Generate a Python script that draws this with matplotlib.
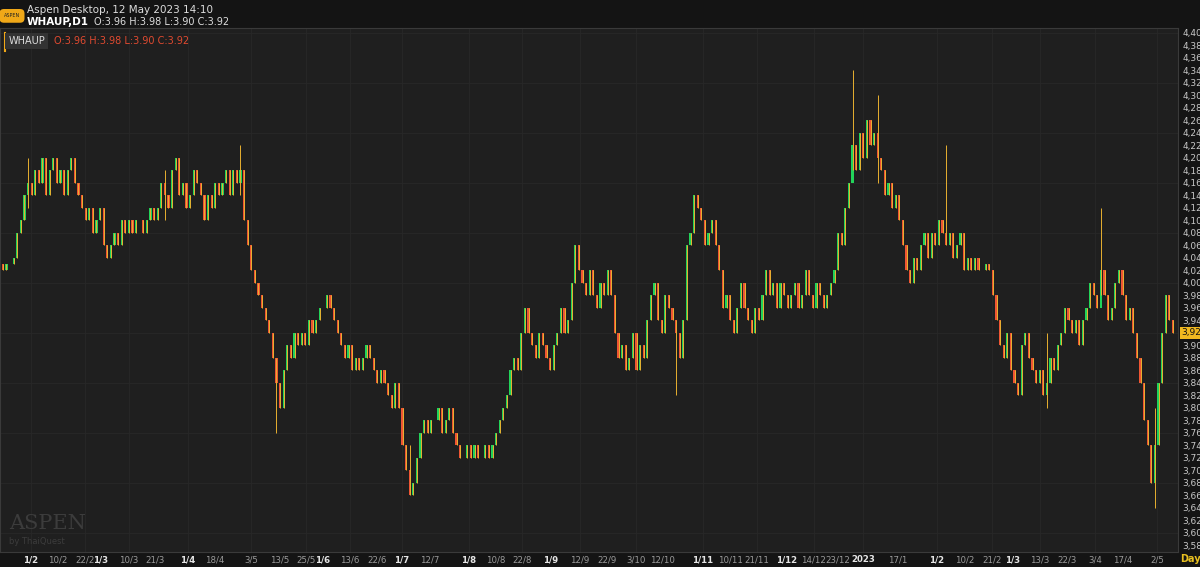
import numpy as np
import matplotlib.pyplot as plt

# daily closes, WHAUP D1
closes = [
    4.02, 4.03, 4.03, 4.04, 4.08, 4.10, 4.14, 4.16, 4.14, 4.18,
    4.16, 4.20, 4.14, 4.18, 4.20, 4.16, 4.18, 4.14, 4.18, 4.20,
    4.16, 4.14, 4.12, 4.10, 4.12, 4.08, 4.10, 4.12, 4.06, 4.04,
    4.06, 4.08, 4.06, 4.10, 4.08, 4.10, 4.08, 4.10, 4.10, 4.08,
    4.10, 4.12, 4.10, 4.12, 4.16, 4.14, 4.12, 4.18, 4.20, 4.14,
    4.16, 4.12, 4.14, 4.18, 4.16, 4.14, 4.10, 4.14, 4.12, 4.16,
    4.14, 4.16, 4.18, 4.14, 4.18, 4.16, 4.18, 4.10, 4.06, 4.02,
    4.00, 3.98, 3.96, 3.94, 3.92, 3.88, 3.84, 3.80, 3.86, 3.90,
    3.88, 3.92, 3.90, 3.92, 3.90, 3.94, 3.92, 3.94, 3.96, 3.96,
    3.98, 3.96, 3.94, 3.92, 3.90, 3.88, 3.90, 3.86, 3.88, 3.86,
    3.88, 3.90, 3.88, 3.86, 3.84, 3.86, 3.84, 3.82, 3.80, 3.84,
    3.80, 3.74, 3.70, 3.66, 3.68, 3.72, 3.76, 3.78, 3.76, 3.78,
    3.78, 3.80, 3.76, 3.78, 3.80, 3.76, 3.74, 3.72, 3.72, 3.74,
    3.72, 3.74, 3.72, 3.72, 3.74, 3.72, 3.74, 3.76, 3.78, 3.80,
    3.82, 3.86, 3.88, 3.86, 3.92, 3.96, 3.92, 3.90, 3.88, 3.92,
    3.90, 3.88, 3.86, 3.90, 3.92, 3.96, 3.92, 3.94, 4.00, 4.06,
    4.02, 4.00, 3.98, 4.02, 3.98, 3.96, 4.00, 3.98, 4.02, 3.98,
    3.92, 3.88, 3.90, 3.86, 3.88, 3.92, 3.86, 3.90, 3.88, 3.94,
    3.98, 4.00, 3.94, 3.92, 3.98, 3.96, 3.94, 3.92, 3.88, 3.94,
    4.06, 4.08, 4.14, 4.12, 4.10, 4.06, 4.08, 4.10, 4.06, 4.02,
    3.96, 3.98, 3.94, 3.92, 3.96, 4.00, 3.96, 3.94, 3.92, 3.96,
    3.94, 3.98, 4.02, 3.98, 4.00, 3.96, 4.00, 3.98, 3.96, 3.98,
    4.00, 3.96, 3.98, 4.02, 3.98, 3.96, 4.00, 3.98, 3.96, 3.98,
    4.00, 4.02, 4.08, 4.06, 4.12, 4.16, 4.22, 4.18, 4.24, 4.20,
    4.26, 4.22, 4.24, 4.20, 4.18, 4.14, 4.16, 4.12, 4.14, 4.10,
    4.06, 4.02, 4.00, 4.04, 4.02, 4.06, 4.08, 4.04, 4.08, 4.06,
    4.10, 4.08, 4.06, 4.08, 4.04, 4.06, 4.08, 4.02, 4.04, 4.02,
    4.04, 4.02, 4.02, 4.03, 4.02, 3.98, 3.94, 3.90, 3.88, 3.92,
    3.86, 3.84, 3.82, 3.90, 3.92, 3.88, 3.86, 3.84, 3.86, 3.82,
    3.84, 3.88, 3.86, 3.90, 3.92, 3.96, 3.94, 3.92, 3.94, 3.90,
    3.94, 3.96, 4.00, 3.98, 3.96, 4.02, 3.98, 3.94, 3.96, 4.00,
    4.02, 3.98, 3.94, 3.96, 3.92, 3.88, 3.84, 3.78, 3.74, 3.68,
    3.74, 3.84, 3.92, 3.98, 3.94, 3.92,
]
first_open = 4.03
# long wicks seen on the chart: index -> (high, low)
spikes = {7: (4.20, 4.12), 45: (4.18, 4.10), 66: (4.22, 4.14), 76: (3.88, 3.76),
          113: (3.74, 3.66), 187: (3.94, 3.82), 236: (4.34, 4.18),
          243: (4.30, 4.16), 262: (4.22, 4.06), 290: (3.92, 3.80),
          305: (4.12, 3.98), 320: (3.80, 3.64)}

tick_labels = ['1/2', '10/2', '22/2', '1/3', '10/3', '21/3', '1/4', '18/4', '3/5', '13/5',
               '25/5', '1/6', '13/6', '22/6', '1/7', '12/7', '1/8', '10/8', '22/8', '1/9',
               '12/9', '22/9', '3/10', '12/10', '1/11', '10/11', '21/11', '1/12', '14/12',
               '23/12', '2023', '17/1', '1/2', '10/2', '21/2', '1/3', '13/3', '22/3', '3/4',
               '17/4', '2/5']
tick_px = [31, 58, 85, 101, 129, 155, 188, 215, 251, 280, 306, 323, 350, 377, 402, 430,
           469, 496, 522, 551, 580, 607, 636, 663, 703, 731, 757, 787, 814, 838, 863, 898,
           937, 965, 992, 1013, 1040, 1067, 1095, 1123, 1157]

n = len(closes)
opens = [first_open] + closes[:-1]
highs = [max(o, c) for o, c in zip(opens, closes)]
lows = [min(o, c) for o, c in zip(opens, closes)]
for i, (h, l) in spikes.items():
    highs[i], lows[i] = h, l

bg = '#1f1f1f'
fig = plt.figure(figsize=(12, 5.67), dpi=100, facecolor='#141414')
ax = fig.add_axes([0, 0.026, 1178 / 1200, 0.925])
ax.set_facecolor(bg)

green, red, doji = '#22d35a', '#ee5533', '#e8b030'
for i in range(n):
    o, c = opens[i], closes[i]
    col = green if c > o else red if c < o else doji
    ax.vlines(i, lows[i], highs[i], color=doji, lw=0.7)
    if c != o:
        ax.add_patch(plt.Rectangle((i - 0.3, min(o, c)), 0.6, abs(c - o), color=col, lw=0))

ax.set_xlim(-0.8, 326.4)
ax.set_ylim(3.569, 4.408)
ticks = [(p - 3) / 3.6 for p in tick_px]
ax.set_xticks(ticks)
ax.set_xticklabels(tick_labels)
for t, lab in zip(ax.get_xticklabels(), tick_labels):
    main = lab.startswith('1/') or lab == '2023'
    t.set_color('#e6e6e6' if main else '#9a9a9a')
    t.set_fontweight('bold' if main else 'normal')
ax.tick_params(axis='x', length=0, labelsize=6.2, pad=2)

yt = np.round(np.arange(3.58, 4.401, 0.02), 2)
ax.yaxis.tick_right()
ax.set_yticks(yt)
ax.set_yticklabels([f'{v:.2f}'.replace('.', ',') for v in yt])
ax.tick_params(axis='y', length=0, labelsize=6.5, colors='#c8c8c8', pad=3)
ax.grid(False)
for v in np.arange(3.60, 4.41, 0.08):
    ax.axhline(v, color='#282828', lw=0.6, zorder=0)
for t in ticks[::2]:
    ax.axvline(t, color='#282828', lw=0.6, zorder=0)
for s in ax.spines.values():
    s.set_color('#3a3a3a')

ax.text(1.003, 3.92, '3,92', transform=ax.get_yaxis_transform(), fontsize=6.5,
        va='center', ha='left', color='#111111',
        bbox=dict(boxstyle='square,pad=0.15', fc='#f0b820', ec='none'))
fig.text(0.992, 0.008, 'Day', color='#e8c020', fontsize=7, fontweight='bold', ha='center')

fig.text(0.0225, 0.983, 'Aspen Desktop, 12 May 2023 14:10', color='#dddddd', fontsize=7.5, va='center')
fig.text(0.0225, 0.962, 'WHAUP,D1', color='white', fontsize=7.5, fontweight='bold', va='center')
fig.text(0.078, 0.962, 'O:3.96 H:3.98 L:3.90 C:3.92', color='#dddddd', fontsize=7, va='center')
fig.text(0.01, 0.972, 'ASPEN', color='#222', fontsize=3.5, ha='center', va='center',
         bbox=dict(boxstyle='round,pad=0.9', fc='#f0a818', ec='none'))
ax.text(0.007, 0.985, 'WHAUP', transform=ax.transAxes, color='#dddddd', fontsize=7, va='top',
        bbox=dict(boxstyle='square,pad=0.3', fc='#333333', ec='none'))
ax.plot([0.004, 0.004], [0.955, 0.99], transform=ax.transAxes, color='#f0a818', lw=1.5)
ax.text(0.046, 0.985, 'O:3.96 H:3.98 L:3.90 C:3.92', transform=ax.transAxes, color='#e04a30',
        fontsize=7, va='top')
ax.text(0.008, 0.045, 'ASPEN', transform=ax.transAxes, color='#3c3c3c', fontsize=15,
        family='serif')
ax.text(0.008, 0.015, 'by ThaiQuest', transform=ax.transAxes, color='#3c3c3c', fontsize=6)

fig.savefig('out.png', dpi=100, facecolor=fig.get_facecolor())
